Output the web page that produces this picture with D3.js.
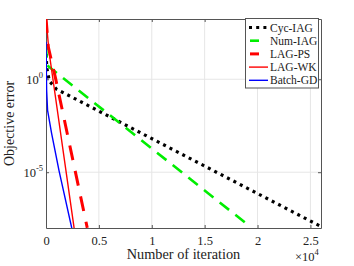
<!DOCTYPE html>
<html>
<head>
<meta charset="utf-8">
<script src="https://cdn.jsdelivr.net/npm/d3@7"></script>
<style>
  body { margin: 0; background: #fff; }
  svg text { font-family: "Liberation Serif", "Times New Roman", serif; }
</style>
</head>
<body>
<div id="chart"></div>
<script>
// series (iteration, objective error)
const names = ["Cyc-IAG", "Num-IAG", "LAG-PS", "LAG-WK", "Batch-GD"];

const cycIter = [0, 60, 310, 1000, 1940, 26000];
const cycErr = [56, 4.5, 0.81, 0.29, 0.155, 1.2e-8];

const numIter = [0, 100, 18960];
const numErr = [63, 5.6, 1.7e-8];

const psIter = [0, 220, 880, 3900];
const psErr = [2000, 54, 1.29, 1.02e-8];

const wkIter = [0, 280, 2670];
const wkErr = [2000, 32, 8.9e-9];

const gdIter = [0, 60, 150, 530, 1230, 2450];
const gdErr = [100, 0.26, 0.021, 1.23e-3, 1.23e-5, 9.1e-9];

const xTicks = [0, 5000, 10000, 15000, 20000, 25000];
const yTicks = [1e0, 1e-5];

const width = 354, height = 266;
const margin = { left: 46, right: 33, top: 19, bottom: 38 };

const svg = d3.select("#chart").append("svg")
  .attr("width", width)
  .attr("height", height);

const x = d3.scaleLinear()
  .domain([0, 26000])
  .range([margin.left, width - margin.right]);

const y = d3.scaleLog()
  .domain([1e-8, Math.pow(10, 3.24)])
  .range([height - margin.bottom, margin.top]);

const x0 = x.range()[0], x1 = x.range()[1];
const y0 = y.range()[0], y1 = y.range()[1];

// grid
svg.append("g").selectAll("line")
  .data(xTicks.slice(1))
  .enter().append("line")
  .attr("x1", d => x(d)).attr("x2", d => x(d))
  .attr("y1", y0).attr("y2", y1)
  .attr("stroke", "#e6e6e6");

svg.append("g").selectAll("line")
  .data(yTicks)
  .enter().append("line")
  .attr("x1", x0).attr("x2", x1)
  .attr("y1", d => y(d)).attr("y2", d => y(d))
  .attr("stroke", "#e6e6e6");

// axes (ticks inside, box)
const axisColor = "#555";
const xAxis = svg.append("g")
  .attr("transform", `translate(0,${y0})`)
  .call(d3.axisBottom(x).tickValues(xTicks).tickSizeInner(-3).tickSizeOuter(0)
    .tickFormat(d => d / 1e4));
const xTop = svg.append("g")
  .attr("transform", `translate(0,${y1})`)
  .call(d3.axisTop(x).tickValues(xTicks).tickSizeInner(-3).tickSizeOuter(0).tickFormat(""));
const yAxis = svg.append("g")
  .attr("transform", `translate(${x0},0)`)
  .call(d3.axisLeft(y).tickValues(yTicks).tickSizeInner(-3).tickSizeOuter(0).tickFormat(""));
const yRight = svg.append("g")
  .attr("transform", `translate(${x1},0)`)
  .call(d3.axisRight(y).tickValues(yTicks).tickSizeInner(-3).tickSizeOuter(0).tickFormat(""));

[xAxis, xTop, yAxis, yRight].forEach(g => {
  g.select(".domain").attr("stroke", axisColor);
  g.selectAll(".tick line").attr("stroke", axisColor);
});
xAxis.selectAll(".tick text")
  .attr("font-size", 12.5)
  .attr("fill", "#222")
  .attr("y", 0)
  .attr("dy", 16.5);

// y tick labels with superscripts
const yl = svg.append("g").selectAll("text")
  .data(yTicks)
  .enter().append("text")
  .attr("x", x0 - 3)
  .attr("y", d => y(d) + 4.5)
  .attr("text-anchor", "end")
  .attr("font-size", 12.5)
  .attr("fill", "#222");
yl.append("tspan").text("10");
yl.append("tspan")
  .attr("dy", -6)
  .attr("font-size", 8.5)
  .text(d => Math.round(Math.log10(d)));

// x10^4 multiplier
const mult = svg.append("text")
  .attr("x", x1 - 26)
  .attr("y", height - 5)
  .attr("font-size", 12.5)
  .attr("fill", "#222");
mult.append("tspan").text("\u00d710");
mult.append("tspan").attr("dy", -6).attr("font-size", 8.5).text("4");

// axis labels
svg.append("text")
  .attr("x", (x0 + x1) / 2)
  .attr("y", height - 7)
  .attr("text-anchor", "middle")
  .attr("font-size", 14.3)
  .attr("fill", "#222")
  .text("Number of iteration");

svg.append("text")
  .attr("transform", `translate(13.5,${(y0 + y1) / 2}) rotate(-90)`)
  .attr("text-anchor", "middle")
  .attr("font-size", 14)
  .attr("fill", "#222")
  .text("Objective error");

// lines
svg.append("clipPath").attr("id", "clip")
  .append("rect")
  .attr("x", x0).attr("y", y1)
  .attr("width", x1 - x0).attr("height", y0 - y1);

const styles = [
  { color: "#000", w: 3.2, dash: "3,4.2" },
  { color: "#00ee00", w: 2.6, dash: "12,8" },
  { color: "#ff0000", w: 3, dash: "15,11" },
  { color: "#ff0000", w: 1.4, dash: null },
  { color: "#0000ff", w: 1.4, dash: null }
];

const series = [
  d3.zip(cycIter, cycErr),
  d3.zip(numIter, numErr),
  d3.zip(psIter, psErr),
  d3.zip(wkIter, wkErr),
  d3.zip(gdIter, gdErr)
];

const line = d3.line()
  .x(d => x(d[0]))
  .y(d => y(d[1]));

svg.append("g").attr("clip-path", "url(#clip)")
  .selectAll("path")
  .data(series)
  .enter().append("path")
  .attr("d", line)
  .attr("fill", "none")
  .attr("stroke", (d, i) => styles[i].color)
  .attr("stroke-width", (d, i) => styles[i].w)
  .attr("stroke-dasharray", (d, i) => styles[i].dash);

// legend
const lg = svg.append("g");
lg.append("rect")
  .attr("x", 245.5).attr("y", 18.5)
  .attr("width", 73).attr("height", 69.5)
  .attr("fill", "#fff")
  .attr("stroke", "#555");

const item = lg.selectAll("g.item")
  .data(names)
  .enter().append("g")
  .attr("transform", (d, i) => `translate(0,${27.5 + i * 13.2})`);

item.append("line")
  .attr("x1", (d, i) => i === 1 || i === 2 ? 250 : 249)
  .attr("x2", (d, i) => i === 1 || i === 2 ? 259 : 268)
  .attr("stroke", (d, i) => styles[i].color)
  .attr("stroke-width", (d, i) => styles[i].w)
  .attr("stroke-dasharray", (d, i) => i === 0 ? styles[0].dash : null);

item.append("text")
  .attr("x", 270)
  .attr("y", 4)
  .attr("font-size", 11.5)
  .attr("fill", "#222")
  .text(d => d);
</script>
</body>
</html>
